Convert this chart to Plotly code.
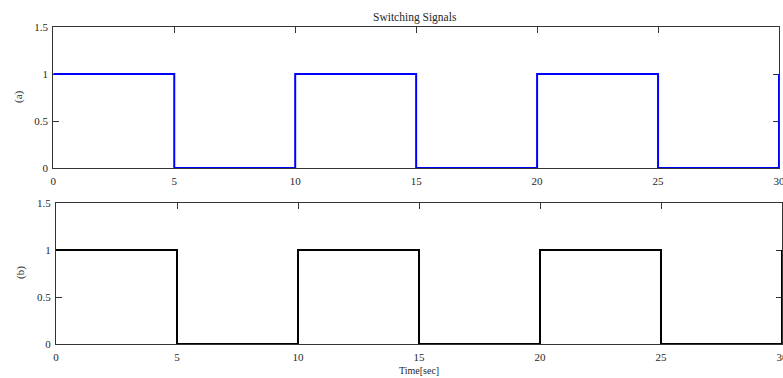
import plotly.graph_objects as go

# Data
switch_times = [0, 5, 10, 15, 20, 25, 30]
signal_a = [1, 0, 1, 0, 1, 0, 1]
signal_b = [1, 0, 1, 0, 1, 0, 1]
x_ticks = [0, 5, 10, 15, 20, 25, 30]
y_ticks = [0, 0.5, 1, 1.5]
y_tick_labels = ["0", "0.5", "1", "1.5"]

W, H = 783, 378
FONT = "Liberation Serif, Times New Roman, serif"
AX = "#333333"

fig = go.Figure()
fig.add_trace(go.Scatter(x=switch_times, y=signal_a, mode="lines", line_shape="hv",
                         line=dict(color="#0000ff", width=2), xaxis="x", yaxis="y",
                         showlegend=False, hoverinfo="skip"))
fig.add_trace(go.Scatter(x=switch_times, y=signal_b, mode="lines", line_shape="hv",
                         line=dict(color="#000000", width=2), xaxis="x2", yaxis="y2",
                         showlegend=False, hoverinfo="skip"))

def xax(domain):
    return dict(domain=domain, range=[0, 30], tickvals=x_ticks, ticks="inside", ticklen=6,
                tickcolor=AX, showline=True, linecolor=AX, linewidth=1, mirror="ticks",
                showgrid=False, zeroline=False, layer="below traces", automargin=False,
                ticklabeloverflow="allow", ticklabelstandoff=3,
                tickfont=dict(family=FONT, size=11, color="#262626"))

def yax(domain, anchor):
    return dict(domain=domain, range=[0, 1.5], tickvals=y_ticks, ticktext=y_tick_labels,
                ticks="inside", ticklen=6, tickcolor=AX, showline=True, linecolor=AX,
                linewidth=1, mirror="ticks", showgrid=False, zeroline=False, anchor=anchor,
                layer="below traces", automargin=False, ticklabelstandoff=2,
                tickfont=dict(family=FONT, size=11, color="#262626"))

fig.update_layout(
    width=W, height=H, margin=dict(l=0, r=0, t=0, b=0),
    paper_bgcolor="white", plot_bgcolor="white",
    xaxis=dict(**xax([53.3 / W, 779 / W]), anchor="y"),
    yaxis=yax([1 - 168 / H, 1 - 27 / H], "x"),
    xaxis2=dict(**xax([56 / W, 782 / W]), anchor="y2"),
    yaxis2=yax([1 - 344 / H, 1 - 203 / H], "x2"),
    annotations=[
        dict(text="Switching Signals", x=415 / W, y=1 - 17 / H, xref="paper", yref="paper",
             xanchor="center", yanchor="middle",
             showarrow=False, font=dict(family=FONT, size=11.5, color="#262626")),
        dict(text="(a)", x=18 / W, y=1 - 97 / H, xref="paper", yref="paper", textangle=-90,
             xanchor="center", yanchor="middle",
             showarrow=False, font=dict(family=FONT, size=11, color="#262626")),
        dict(text="(b)", x=20 / W, y=1 - 273 / H, xref="paper", yref="paper", textangle=-90,
             xanchor="center", yanchor="middle",
             showarrow=False, font=dict(family=FONT, size=11, color="#262626")),
        dict(text="Time[sec]", x=419 / W, y=1 - 370 / H, xref="paper", yref="paper",
             xanchor="center", yanchor="middle",
             showarrow=False, font=dict(family=FONT, size=10, color="#262626")),
    ],
)

fig.write_html("out.html", config={"displayModeBar": False},
               post_script="document.body.style.margin='0';document.body.style.overflow='hidden';")
